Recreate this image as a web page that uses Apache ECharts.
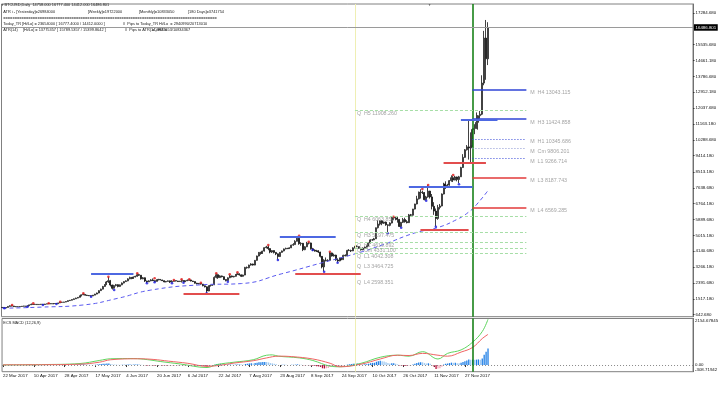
<!DOCTYPE html>
<html>
<head>
<meta charset="UTF-8">
<title>BTCUSD Daily</title>
<style>html,body{margin:0;padding:0;background:#fff}#main{width:722px;height:399px}</style>
</head>
<body>
<div id="main"></div>
<script src="https://cdn.jsdelivr.net/npm/echarts@6/dist/echarts.min.js"></script>
<script>
var FONT = '"Liberation Sans", Arial, sans-serif';

// date labels, one every 16 bars starting at bar 0
var tickLabels = ['22 Mar 2017', '10 Apr 2017', '28 Apr 2017', '17 May 2017', '4 Jun 2017', '20 Jun 2017',
  '6 Jul 2017', '22 Jul 2017', '7 Aug 2017', '23 Aug 2017', '8 Sep 2017', '24 Sep 2017',
  '10 Oct 2017', '26 Oct 2017', '11 Nov 2017', '27 Nov 2017'];
var priceTicks = [642.68, 1517.18, 2391.68, 3266.18, 4140.68, 5015.18, 5889.68, 6764.18, 7638.68, 8513.18,
  9414.18, 10288.68, 11163.18, 12037.68, 12912.18, 13786.68, 14661.18, 15535.68, 17284.68];
var macdTicks = [-308.71942, 0, 2154.67845];
var bid = 16486.801;

// daily bars: [open, high, low, close]
var ohlc = [
  [1040,1065,1015,1045],[1045,1050,1005,1020],[1020,1060,1015,1040],[1040,1115,1035,1100],
  [1100,1160,1090,1135],[1135,1150,1105,1120],[1120,1130,1075,1090],[1090,1100,1065,1080],
  [1080,1100,1070,1085],[1085,1105,1075,1095],[1095,1120,1090,1110],[1110,1130,1100,1120],
  [1120,1125,1095,1105],[1105,1150,1100,1140],[1140,1195,1135,1185],[1185,1255,1180,1215],
  [1215,1225,1190,1205],[1205,1225,1195,1215],[1215,1220,1190,1200],[1200,1220,1195,1210],
  [1210,1230,1200,1220],[1220,1225,1190,1205],[1205,1240,1200,1230],[1230,1250,1225,1245],
  [1245,1262,1238,1255],[1255,1258,1230,1240],[1240,1255,1235,1250],[1250,1265,1242,1260],
  [1260,1262,1240,1250],[1250,1300,1245,1290],[1290,1350,1285,1330],[1330,1345,1310,1325],
  [1325,1350,1320,1340],[1340,1380,1335,1370],[1370,1430,1360,1420],[1420,1455,1405,1440],
  [1440,1490,1430,1480],[1480,1535,1470,1520],[1520,1580,1505,1560],[1560,1615,1550,1600],
  [1600,1700,1590,1680],[1680,1760,1660,1740],[1740,1810,1720,1760],[1760,1775,1700,1720],
  [1720,1740,1680,1700],[1700,1720,1670,1690],[1690,1700,1650,1680],[1680,1730,1670,1720],
  [1720,1795,1715,1780],[1780,1860,1770,1840],[1840,1990,1830,1970],[1970,2080,1950,2050],
  [2050,2230,2040,2200],[2200,2330,2180,2300],[2300,2500,2280,2450],[2450,2720,2400,2520],
  [2520,2560,2200,2280],[2280,2300,2030,2100],[2100,2290,2080,2250],[2250,2340,2200,2300],
  [2300,2320,2150,2200],[2200,2310,2180,2290],[2290,2420,2270,2390],[2390,2490,2370,2470],
  [2470,2540,2450,2510],[2510,2650,2490,2620],[2620,2740,2600,2700],[2700,2720,2600,2640],
  [2640,2750,2620,2720],[2720,2790,2700,2760],[2760,2910,2740,2850],[2850,2880,2780,2820],
  [2820,2830,2580,2620],[2620,2720,2600,2680],[2680,2700,2450,2500],[2500,2520,2390,2460],
  [2460,2540,2440,2510],[2510,2600,2490,2560],[2560,2640,2500,2520],[2520,2540,2440,2480],
  [2480,2590,2470,2560],[2560,2620,2540,2590],[2590,2600,2540,2560],[2560,2570,2500,2520],
  [2520,2530,2430,2450],[2450,2500,2430,2480],[2480,2530,2470,2510],[2510,2520,2390,2440],
  [2440,2545,2430,2480],[2480,2540,2470,2520],[2520,2530,2480,2500],[2500,2510,2450,2470],
  [2470,2510,2460,2490],[2490,2585,2420,2530],[2530,2540,2440,2460],[2460,2530,2450,2510],
  [2510,2585,2500,2540],[2540,2580,2520,2560],[2560,2570,2480,2500],[2500,2510,2450,2470],
  [2470,2480,2360,2380],[2380,2400,2320,2340],[2340,2395,2320,2360],[2360,2380,2300,2330],
  [2330,2340,2210,2240],[2240,2260,2150,2180],[2180,2200,1850,1950],[1950,2260,1940,2230],
  [2230,2300,2200,2260],[2260,2320,2240,2290],[2290,2760,2280,2700],[2700,2910,2650,2850],
  [2850,2870,2620,2690],[2690,2820,2670,2780],[2780,2800,2700,2740],[2740,2760,2560,2580],
  [2580,2600,2480,2530],[2530,2700,2510,2680],[2680,2850,2660,2780],[2780,2800,2700,2730],
  [2730,2780,2700,2760],[2760,2880,2740,2860],[2860,2960,2840,2900],[2900,2920,2800,2840],
  [2840,2860,2720,2760],[2760,2850,2740,2830],[2830,3280,2820,3250],[3250,3300,3180,3230],
  [3230,3400,3200,3380],[3380,3480,3350,3440],[3440,3460,3350,3380],[3380,3660,3370,3640],
  [3640,3900,3620,3880],[3880,4100,3860,4080],[4080,4110,3950,4020],[4020,4170,4000,4150],
  [4150,4360,4130,4340],[4340,4440,4300,4380],[4380,4460,4200,4290],[4290,4300,4030,4100],
  [4100,4200,4050,4180],[4180,4190,4020,4080],[4080,4100,3930,4000],[4000,4020,3680,3850],
  [3850,4100,3830,4080],[4080,4180,4060,4160],[4160,4290,4140,4270],[4270,4340,4250,4300],
  [4300,4330,4260,4290],[4290,4360,4270,4330],[4330,4500,4320,4480],[4480,4590,4450,4510],
  [4510,4750,4500,4690],[4690,4980,4680,4860],[4860,4900,4500,4560],[4560,4640,4450,4580],
  [4580,4600,4150,4230],[4230,4420,4200,4390],[4390,4660,4370,4590],[4590,4640,4520,4600],
  [4600,4620,4230,4280],[4280,4330,4150,4200],[4200,4250,4120,4160],[4160,4220,4100,4170],
  [4170,4200,4050,4100],[4100,4110,3800,3860],[3860,3880,3200,3280],[3280,3700,3040,3650],
  [3650,3800,3580,3630],[3630,3700,3560,3640],[3640,4100,3630,4050],[4050,4070,3850,3880],
  [3880,4010,3850,3930],[3930,3950,3620,3660],[3660,3750,3530,3610],[3610,3790,3590,3770],
  [3770,3800,3650,3680],[3680,3950,3670,3920],[3920,3970,3860,3890],[3890,4220,3880,4190],
  [4190,4260,4150,4180],[4180,4230,4100,4160],[4160,4360,4150,4330],[4330,4440,4300,4390],
  [4390,4470,4370,4400],[4400,4420,4270,4310],[4310,4330,4180,4220],[4220,4350,4200,4320],
  [4320,4400,4300,4370],[4370,4460,4350,4430],[4430,4620,4420,4600],[4600,4800,4580,4770],
  [4770,4820,4720,4770],[4770,4880,4750,4830],[4830,5450,4820,5440],[5440,5850,5400,5640],
  [5640,5840,5560,5820],[5820,5860,5580,5690],[5690,5780,5650,5750],[5750,5780,5550,5600],
  [5600,5620,5150,5570],[5570,5740,5520,5700],[5700,6050,5680,5990],[5990,6030,5870,6000],
  [6000,6010,5850,5980],[5980,6050,5720,5900],[5900,5920,5480,5510],[5510,5760,5460,5740],
  [5740,5980,5700,5890],[5890,5990,5720,5770],[5770,5860,5680,5720],[5720,6200,5700,6150],
  [6150,6200,6040,6130],[6130,6480,6100,6470],[6470,6760,6450,6750],[6750,7200,6730,7030],
  [7030,7440,7000,7380],[7380,7560,7050,7400],[7400,7480,7300,7380],[7380,7410,6950,6990],
  [6990,7200,6950,7140],[7140,7780,7100,7460],[7460,7480,7050,7140],[7140,7300,6450,6620],
  [6620,6850,6150,6360],[6360,6500,5520,5950],[5950,6700,5880,6560],[6560,6750,6450,6640],
  [6640,7330,6620,7300],[7300,7920,7280,7850],[7850,8000,7580,7700],[7700,7860,7650,7790],
  [7790,8070,7760,8040],[8040,8330,7980,8200],[8200,8290,7960,8070],[8070,8300,8060,8240],
  [8240,8260,8000,8100],[8100,8300,7900,8250],[8250,8800,8240,8760],[8760,9500,8740,9320],
  [9320,9780,9300,9740],[9740,10000,9700,9900],[9900,11380,9200,9840],[9840,10700,9050,9950],
  [9950,10920,9900,10860],[10860,11150,10600,10910],[10910,11800,10900,11250],[11250,11650,10850,11620],
  [11620,11880,11450,11700],[11700,13850,11650,13420],[13420,16300,13300,15900],[15900,16900,13600,14760],
  [14758,16777.4,14412,16486.801]
];

// moving average (dashed), read at a few bars: [bar, price]
var maPoints = [[0,1000],[20,1060],[42,1180],[60,1550],[77,2000],[103,2290],[124,2360],[145,2900],
  [166,3510],[184,4030],[198,4520],[214,5150],[226,5450],[236,5900],[242,6300],[246,6700],[252,7480]];

// fractal marks: [bar, price]
var fractalUp = [[4.8,1178],[15.8,1271],[24.2,1271],[30.4,1360],[42.3,1823],[54.6,2739],[70.2,2926],
  [78.7,2650],[88.6,2557],[93.2,2595],[96.9,2595],[102.6,2408],[110.9,2926],[118.2,2871],[122,2981],
  [138.1,4487],[153.7,5000],[158.9,4669],[170.1,4118],[203,6048],[217.8,7576],[221.2,7797],[233.9,8349]];
var fractalDown = [[1.1,996],[12.6,1084],[21,1178],[28.2,1233],[46.3,1635],[57.6,2005],[74.9,2375],
  [79.2,2430],[87.9,2375],[93.6,2408],[106.1,1823],[116.5,2463],[142.8,3660],[160.6,4211],[166.7,3014],
  [174.1,3511],[200.4,5133],[207,5441],[220,6931],[225.2,5497],[237.3,7835]];

// swing levels: [fromBar, toBar, price]
var resistSegs = [[46,68,2904],[144,173,4945],[211,244,7703],[238,257,11420]];
var supportSegs = [[94,123,1784],[152,186,2926],[217,242,5315],[229,251,9027]];

// quarterly and monthly pivot levels
var qLevels = [['H5',11908.260],['H4',6063.850],['H3',5197.475],['H1',4619.892],['Cm',4331.100],
  ['L1',4042.308],['L3',3464.725],['L4',2598.351]];
var mLevels = [['H4',13043.115],['H3',11424.858],['H1',10345.686],['Cm',9806.201],['L1',9266.714],
  ['L3',8187.743],['L4',6569.285]];
var qStart = 183, mStart = 244, levelEnd = 272;

// MACD panel
var macdLine = [[0,5],[20,20],[40,70],[50,210],[56,290],[68,300],[75,250],[82,160],[92,50],[106,-115],
  [111,20],[120,130],[130,245],[137,455],[140,470],[143,410],[154,330],[161,210],[170,-50],[175,-80],
  [186,80],[196,360],[205,455],[211,410],[218,620],[226,280],[231,540],[238,700],[244,1060],[249,1550],[252,2120]];
var signalLine = [[0,10],[20,15],[40,40],[50,130],[56,245],[70,290],[78,260],[86,180],[96,80],[106,-60],
  [112,-20],[120,90],[130,200],[137,330],[143,410],[150,390],[161,280],[170,80],[175,-80],[186,40],
  [196,280],[205,455],[211,440],[218,540],[226,455],[231,410],[238,600],[244,815],[249,1225],[252,1420]];
var hist = [
  -5,-6,-4,-2,2,4,3,1,0,1,2,3,2,3,5,8,
  7,6,5,5,4,2,3,4,4,3,3,4,3,5,8,8,
  9,12,14,16,18,20,22,26,32,38,40,32,24,16,10,9,
  14,22,34,45,55,62,70,72,52,30,22,18,10,8,10,14,
  18,24,26,22,24,26,30,26,10,4,-12,-22,-24,-22,-22,-28,
  -22,-16,-14,-16,-22,-22,-18,-22,-20,-16,-14,-14,-12,-8,-10,-6,
  -2,0,-6,-10,-20,-28,-32,-36,-44,-52,-80,-60,-50,-40,10,45,
  50,55,40,28,18,22,30,26,22,24,30,30,22,18,48,60,
  75,80,75,90,110,130,130,135,145,140,120,90,75,55,35,5,
  5,8,10,8,6,4,10,10,18,30,18,10,-10,-12,-5,-5,
  -25,-35,-45,-55,-65,-90,-150,-160,-150,-140,-90,-80,-70,-75,-72,-55,
  -45,-20,-5,20,35,45,60,70,70,60,40,35,35,40,60,85,
  100,105,150,180,195,180,165,130,90,70,80,80,60,30,-20,-30,
  -30,-35,-40,-20,-5,20,55,90,120,130,125,90,70,80,55,-10,
  -80,-180,-160,-150,-80,20,60,70,90,110,100,100,85,80,100,140,
  180,210,260,240,250,240,250,260,240,300,480,620,770
];

var SLOTS = 359; // bar slots incl. empty chart shift on the right
var cats = [];
for (var i = 0; i < SLOTS; i++) cats.push(i);

var candleData = ohlc.map(function (r) { return [r[0], r[3], r[2], r[1]]; });

var qShown = ['H5','H4','H3','H1','Cm','L1'];
var levelLines = [];
qLevels.forEach(function (l) {
  if (qShown.indexOf(l[0]) < 0) return;
  levelLines.push([{coord: [qStart, l[1]], lineStyle: {color: '#a6dea6', type: [3, 2], width: 1}}, {coord: [levelEnd, l[1]]}]);
});
mLevels.forEach(function (l) {
  var st;
  if (l[0] === 'H4' || l[0] === 'H3') st = {color: '#2f44d6', width: 1.5, type: 'solid'};
  else if (l[0] === 'L3' || l[0] === 'L4') st = {color: '#e23a3a', width: 1.5, type: 'solid'};
  else if (l[0] === 'Cm') st = {color: '#8a94d0', width: 1, type: [1, 2]};
  else st = {color: '#3446d8', width: 1, type: [1, 2]};
  levelLines.push([{coord: [mStart, l[1]], lineStyle: st}, {coord: [levelEnd, l[1]]}]);
});
resistSegs.forEach(function (s) {
  levelLines.push([{coord: [s[0], s[2]], lineStyle: {color: '#4d68e2', width: 2.2, type: 'solid'}}, {coord: [s[1], s[2]]}]);
});
supportSegs.forEach(function (s) {
  levelLines.push([{coord: [s[0], s[2]], lineStyle: {color: '#e24d4d', width: 2.2, type: 'solid'}}, {coord: [s[1], s[2]]}]);
});

var levelLabels = [];
qLevels.forEach(function (l) { levelLabels.push({value: [qStart + 1, l[1]], name: 'Q  ' + l[0] + ' ' + l[1].toFixed(3)}); });
mLevels.forEach(function (l) { levelLabels.push({value: [levelEnd + 2, l[1]], name: 'M  ' + l[0] + ' ' + l[1].toFixed(3)}); });

function txt(x, y, s, size, color) {
  return {type: 'text', x: x, y: y, silent: true, z: 50,
    style: {text: s, fill: color || '#1a1a1a', font: (size || 3.9) + 'px ' + FONT, textVerticalAlign: 'middle'}};
}

var chart = echarts.init(document.getElementById('main'), null, {renderer: 'canvas'});
chart.setOption({
  animation: false,
  backgroundColor: '#ffffff',
  grid: [
    {left: 1.5, right: 29, top: 4, height: 312.7, show: true, borderColor: '#808080', borderWidth: 1, backgroundColor: '#fff'},
    {left: 1.5, right: 29, top: 318.5, height: 53.2, show: true, borderColor: '#808080', borderWidth: 1, backgroundColor: '#fff'}
  ],
  xAxis: [
    {type: 'category', gridIndex: 0, data: cats, boundaryGap: true,
      axisLine: {show: false}, axisTick: {show: false}, axisLabel: {show: false}, splitLine: {show: false}},
    {type: 'category', gridIndex: 1, data: cats, boundaryGap: true,
      axisLine: {show: false},
      axisTick: {show: true, alignWithLabel: true, length: 2, lineStyle: {color: '#333'},
        interval: function (i) { return i % 16 === 0 && i / 16 < tickLabels.length; }},
      axisLabel: {show: true, fontSize: 4.4, fontFamily: FONT, color: '#111', margin: 2.5, align: 'left',
        interval: function (i) { return i % 16 === 0 && i / 16 < tickLabels.length; },
        formatter: function (v, i) { return tickLabels[i / 16] || ''; }},
      splitLine: {show: false}}
  ],
  yAxis: [
    {type: 'value', gridIndex: 0, position: 'right', min: 532.36, max: 17781.1, scale: true,
      axisLine: {show: true, lineStyle: {color: '#707070'}},
      axisTick: {show: true, length: 1.5, customValues: priceTicks, lineStyle: {color: '#333'}},
      axisLabel: {show: true, customValues: priceTicks, fontSize: 4.4, fontFamily: FONT, color: '#111', margin: 2.5,
        formatter: function (v) { return v.toFixed(3); }},
      splitLine: {show: false}},
    {type: 'value', gridIndex: 1, position: 'right', min: macdTicks[0], max: macdTicks[2],
      axisLine: {show: true, lineStyle: {color: '#707070'}},
      axisTick: {show: false},
      axisLabel: {show: true, customValues: macdTicks, fontSize: 4.4, fontFamily: FONT, color: '#111', margin: 2,
        verticalAlignMaxLabel: 'top', verticalAlignMinLabel: 'bottom',
        formatter: function (v) { return v === 0 ? '0.00' : v.toFixed(5); }},
      splitLine: {show: false}}
  ],
  graphic: [
    txt(1, 5, '\u25BC', 3.2, '#444'),
    txt(4.5, 5, 'BTCUSD,Daily  14758.000 16777.400 14412.000 16486.801'),
    txt(3.3, 12, 'ATR i - [Yesterday]=26984000'),
    txt(87.7, 12, '[Weekly]=19722000'),
    txt(139, 12, '[Monthly]=10833050'),
    txt(188, 12, '[180 Days]=3741754'),
    txt(3.3, 18.3, '=============================================================================================='),
    txt(3.3, 23.7, 'Today_TR [Hi/Lo] = 23654000 [ 16777.4000 / 14412.0000 ]'),
    txt(123, 23.7, '//  Pips to Today_TR Hi/Lo  = 2940990/20713010'),
    txt(3.3, 30, 'ATR(14)'),
    txt(23, 30, '[Hi/Lo] = 13775357 [ 15789.5357 / 15399.8642 ]'),
    txt(125, 30, '//  Pips to ATR(14) Hi/Lo'),
    txt(152, 30, '= -6937653/10834367'),
    txt(428, 5, '\u25BC', 3.2, '#555'),
    txt(3.3, 322.7, 'ECS MACD (12,26,9)')
  ],
  series: [
    {type: 'candlestick', name: 'BTCUSD', xAxisIndex: 0, yAxisIndex: 0, data: candleData, barWidth: 1.5,
      itemStyle: {color: '#ffffff', color0: '#000000', borderColor: '#111111', borderColor0: '#111111', borderWidth: 0.8},
      markLine: {silent: true, symbol: ['none', 'none'], animation: false, label: {show: false},
        data: [
          {xAxis: qStart, lineStyle: {color: '#efefb4', width: 1, type: 'solid'}},
          {xAxis: mStart, lineStyle: {color: '#0a7a0a', width: 1.5, type: 'solid'}},
          {yAxis: bid, lineStyle: {color: '#9a9a9a', width: 1, type: 'solid'},
            label: {show: true, position: 'end', distance: 1, formatter: bid.toFixed(3), color: '#fff',
              backgroundColor: '#000', padding: [1.5, 1.5, 1, 1.5], fontSize: 4.4, fontFamily: FONT}}
        ].concat(levelLines)}},
    {type: 'line', name: 'MA', xAxisIndex: 0, yAxisIndex: 0, data: maPoints, smooth: true, symbol: 'none',
      lineStyle: {color: '#5a5af0', width: 1, type: [4, 3]}, z: 3},
    {type: 'scatter', name: 'FractalUp', xAxisIndex: 0, yAxisIndex: 0, data: fractalUp, symbolSize: 2.6,
      itemStyle: {color: '#e01818'}, z: 4},
    {type: 'scatter', name: 'FractalDown', xAxisIndex: 0, yAxisIndex: 0, data: fractalDown, symbolSize: 2.6,
      itemStyle: {color: '#1818e0'}, z: 4},
    {type: 'scatter', name: 'Levels', xAxisIndex: 0, yAxisIndex: 0, data: levelLabels, symbolSize: 0, z: 5,
      label: {show: true, position: [0, 0.5], align: 'left', verticalAlign: 'top', formatter: '{b}',
        fontSize: 5.3, fontFamily: FONT, color: '#8c8c8c'}},
    {type: 'bar', name: 'Histogram', xAxisIndex: 1, yAxisIndex: 1, data: hist, barWidth: 1.3,
      itemStyle: {color: function (p) {
        var v = p.value, prev = p.dataIndex > 0 ? hist[p.dataIndex - 1] : 0;
        if (v >= 0) return v >= prev ? '#1f7fe6' : '#9fcaf2';
        return v <= prev ? '#b8103c' : '#f2a8b8';
      }},
      markLine: {silent: true, symbol: ['none', 'none'], animation: false, label: {show: false},
        data: [
          {yAxis: 0, lineStyle: {color: '#8a8a8a', width: 1, type: [1, 2]}},
          {xAxis: qStart, lineStyle: {color: '#efefb4', width: 1, type: 'solid'}},
          {xAxis: mStart, lineStyle: {color: '#0a7a0a', width: 1.5, type: 'solid'}}
        ]}},
    {type: 'line', name: 'MACD', xAxisIndex: 1, yAxisIndex: 1, data: macdLine, smooth: 0.4, symbol: 'none',
      lineStyle: {color: '#5fd65f', width: 1}, z: 3},
    {type: 'line', name: 'Signal', xAxisIndex: 1, yAxisIndex: 1, data: signalLine, smooth: 0.4, symbol: 'none',
      lineStyle: {color: '#f06464', width: 1}, z: 3}
  ]
});
</script>
</body>
</html>
